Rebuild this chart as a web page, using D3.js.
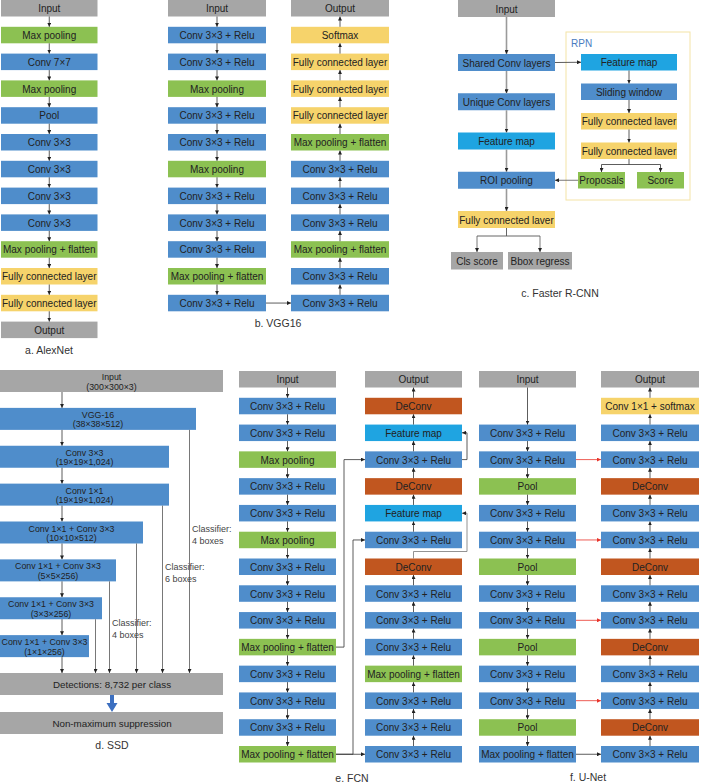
<!DOCTYPE html>
<html>
<head>
<meta charset="utf-8">
<script src="https://cdn.jsdelivr.net/npm/d3@7"></script>
<style>
  body { margin: 0; background: #fff; }
  text { font-family: "Liberation Sans", Arial, sans-serif; }
</style>
</head>
<body>
<script>
// ---- data: layer names and kinds ----
var alexLayers = [["Input","io"],["Max pooling","pool"],["Conv 7×7","conv"],["Max pooling","pool"],["Pool","conv"],
  ["Conv 3×3","conv"],["Conv 3×3","conv"],["Conv 3×3","conv"],["Conv 3×3","conv"],["Max pooling + flatten","pool"],
  ["Fully connected layer","fc"],["Fully connected layer","fc"],["Output","io"]];

var vggDown = [["Input","io"],["Conv 3×3 + Relu","conv"],["Conv 3×3 + Relu","conv"],["Max pooling","pool"],
  ["Conv 3×3 + Relu","conv"],["Conv 3×3 + Relu","conv"],["Max pooling","pool"],["Conv 3×3 + Relu","conv"],
  ["Conv 3×3 + Relu","conv"],["Conv 3×3 + Relu","conv"],["Max pooling + flatten","pool"],["Conv 3×3 + Relu","conv"]];
var vggUp = [["Output","io"],["Softmax","fc"],["Fully connected layer","fc"],["Fully connected layer","fc"],
  ["Fully connected layer","fc"],["Max pooling + flatten","pool"],["Conv 3×3 + Relu","conv"],["Conv 3×3 + Relu","conv"],
  ["Conv 3×3 + Relu","conv"],["Max pooling + flatten","pool"],["Conv 3×3 + Relu","conv"],["Conv 3×3 + Relu","conv"]];

var fasterMain = [["Input","io"],["Shared Conv layers","conv"],["Unique Conv layers","conv"],["Feature map","fmap"],
  ["ROI pooling","conv"],["Fully connected laver","fc"]];
var rpnLayers = [["Feature map","fmap"],["Sliding window","conv"],["Fully connected laver","fc"],["Fully connected laver","fc"]];
var rpnOut = [["Proposals","pool"],["Score","pool"]];
var fasterHeads = [["Cls score","io"],["Bbox regress","io"]];

var ssdLayers = [["Input","(300×300×3)","io"],["VGG-16","(38×38×512)","conv"],["Conv 3×3","(19×19×1,024)","conv"],
  ["Conv 1×1","(19×19×1,024)","conv"],["Conv 1×1 + Conv 3×3","(10×10×512)","conv"],["Conv 1×1 + Conv 3×3","(5×5×256)","conv"],
  ["Conv 1×1 + Conv 3×3","(3×3×256)","conv"],["Conv 1×1 + Conv 3×3","(1×1×256)","conv"]];
var ssdSources = [1, 3, 4, 5, 6];            // layers with a side line to the detections
var ssdClassifiers = [[1,"4 boxes"],[3,"6 boxes"],[5,"4 boxes"]];
var ssdBottom = ["Detections: 8,732 per class", "Non-maximum suppression"];

var fcnDown = [["Input","io"],["Conv 3×3 + Relu","conv"],["Conv 3×3 + Relu","conv"],["Max pooling","pool"],
  ["Conv 3×3 + Relu","conv"],["Conv 3×3 + Relu","conv"],["Max pooling","pool"],["Conv 3×3 + Relu","conv"],
  ["Conv 3×3 + Relu","conv"],["Conv 3×3 + Relu","conv"],["Max pooling + flatten","pool"],["Conv 3×3 + Relu","conv"],
  ["Conv 3×3 + Relu","conv"],["Conv 3×3 + Relu","conv"],["Max pooling + flatten","pool"]];
var fcnUp = [["Output","io"],["DeConv","deconv"],["Feature map","fmap"],["Conv 3×3 + Relu","conv"],["DeConv","deconv"],
  ["Feature map","fmap"],["Conv 3×3 + Relu","conv"],["DeConv","deconv"],["Conv 3×3 + Relu","conv"],["Conv 3×3 + Relu","conv"],
  ["Conv 3×3 + Relu","conv"],["Max pooling + flatten","pool"],["Conv 3×3 + Relu","conv"],["Conv 3×3 + Relu","conv"],
  ["Conv 3×3 + Relu","conv"]];
var fcnSkips = [[10,3],[14,6],[14,14]];      // [left row, right row]

var unetDown = [["Input","io"],null,["Conv 3×3 + Relu","conv"],["Conv 3×3 + Relu","conv"],["Pool","pool"],
  ["Conv 3×3 + Relu","conv"],["Conv 3×3 + Relu","conv"],["Pool","pool"],["Conv 3×3 + Relu","conv"],
  ["Conv 3×3 + Relu","conv"],["Pool","pool"],["Conv 3×3 + Relu","conv"],["Conv 3×3 + Relu","conv"],["Pool","pool"],
  ["Max pooling + flatten","conv"]];
var unetUp = [["Output","io"],["Conv 1×1 + softmax","fc"],["Conv 3×3 + Relu","conv"],["Conv 3×3 + Relu","conv"],
  ["DeConv","deconv"],["Conv 3×3 + Relu","conv"],["Conv 3×3 + Relu","conv"],["DeConv","deconv"],["Conv 3×3 + Relu","conv"],
  ["Conv 3×3 + Relu","conv"],["DeConv","deconv"],["Conv 3×3 + Relu","conv"],["Conv 3×3 + Relu","conv"],["DeConv","deconv"],
  ["Conv 3×3 + Relu","conv"]];
var unetCopies = [3, 6, 9, 12];              // red copy connections
var unetBridge = 14;

var captions = ["a. AlexNet","b. VGG16","c. Faster R-CNN","d. SSD","e. FCN","f. U-Net"];

// ---- drawing ----
var W = 701, H = 784;
var svg = d3.select('body').append('svg').attr('width', W).attr('height', H);
svg.append('rect').attr('width', W).attr('height', H).attr('fill', '#fff');

var color = d3.scaleOrdinal()
  .domain(["io","conv","pool","fc","deconv","fmap"])
  .range(["#a6a6a6","#4f8dcb","#8cc152","#f6d36b","#c1561f","#1fa4e1"]);

var defs = svg.append('defs');
function marker(id, fill) {
  defs.append('marker').attr('id', id)
    .attr('viewBox', '0 0 6 6').attr('refX', 6).attr('refY', 3)
    .attr('markerWidth', 4).attr('markerHeight', 4).attr('markerUnits', 'userSpaceOnUse')
    .attr('orient', 'auto')
    .append('path').attr('d', 'M0,0L6,3L0,6z').attr('fill', fill);
}
marker('ah', '#222');
marker('ahr', '#e8332a');

var BH = 16.5;   // standard box height

function box(g, x, y, w, h, label, kind, fs) {
  g.append('rect').attr('x', x).attr('y', y).attr('width', w).attr('height', h).attr('fill', color(kind));
  g.append('text').attr('x', x + w / 2).attr('y', y + h / 2 + 0.5)
    .attr('text-anchor', 'middle').attr('dominant-baseline', 'central')
    .attr('font-size', (fs || 10) + 'px').attr('fill', '#222').text(label);
}
function arrow(g, pts, stroke, sw, mk) {
  g.append('path').attr('d', d3.line()(pts)).attr('fill', 'none')
    .attr('stroke', stroke || '#333').attr('stroke-width', sw || 0.8)
    .attr('marker-end', 'url(#' + (mk || 'ah') + ')');
}
function caption(x, y, t) {
  svg.append('text').attr('x', x).attr('y', y).attr('text-anchor', 'middle').attr('dominant-baseline', 'central')
    .attr('font-size', '10.5px').attr('fill', '#333').text(t);
}
// column of boxes; dir 1 = arrows down, -1 = arrows up
function column(g, layers, x, w, y, dir, skipArrow) {
  layers.forEach(function (d, i) {
    if (d) box(g, x, y(i), w, BH, d[0], d[1]);
  });
  var idx = layers.map(function (d, i) { return d ? i : -1; }).filter(function (i) { return i >= 0; });
  for (var k = 1; k < idx.length; k++) {
    var a = idx[k - 1], b = idx[k];
    if (skipArrow && skipArrow(a, b)) continue;
    if (dir > 0) arrow(g, [[x + w / 2, y(a) + BH], [x + w / 2, y(b)]]);
    else arrow(g, [[x + w / 2, y(b)], [x + w / 2, y(a) + BH]]);
  }
}

// a. AlexNet
var gA = svg.append('g');
var yA = d3.scaleLinear().domain([0, 12]).range([0, 321.6]);
column(gA, alexLayers, 1, 96.5, yA, 1);
caption(49, 350, captions[0]);

// b. VGG16
var gB = svg.append('g');
var yB = d3.scaleLinear().domain([0, 11]).range([0, 294.8]);
column(gB, vggDown, 168, 98, yB, 1);
column(gB, vggUp, 291, 98, yB, -1);
arrow(gB, [[266, yB(11) + BH / 2], [291, yB(11) + BH / 2]]);
caption(278, 323, captions[1]);

// c. Faster R-CNN
var gC = svg.append('g');
var yC = d3.scaleLinear().domain([0, 1, 5]).range([0, 54, 211]);
var cx = 458, cw = 97, ch = 17;
gC.append('rect').attr('x', 566).attr('y', 32).attr('width', 124).attr('height', 168)
  .attr('fill', 'none').attr('stroke', '#f4e3a6').attr('stroke-width', 1);
gC.append('text').attr('x', 571).attr('y', 43).attr('dominant-baseline', 'central')
  .attr('font-size', '10px').attr('fill', '#4a7cc0').text('RPN');
fasterMain.forEach(function (d, i) {
  box(gC, cx, yC(i), cw, ch, d[0], d[1]);
  if (i > 0) arrow(gC, [[cx + cw / 2, yC(i - 1) + ch], [cx + cw / 2, yC(i)]], '#9a9a9a', 1.6);
});
var yR = d3.scaleLinear().domain([0, 3]).range([54, 142.5]);
var rx = 581, rw = 96;
rpnLayers.forEach(function (d, i) {
  box(gC, rx, yR(i), rw, BH, d[0], d[1]);
  if (i > 0) arrow(gC, [[rx + rw / 2, yR(i - 1) + BH], [rx + rw / 2, yR(i)]]);
});
arrow(gC, [[cx + cw, yC(1) + ch / 2], [rx, yR(0) + BH / 2]]);
var xOut = d3.scaleLinear().domain([0, 1]).range([578, 637]);
rpnOut.forEach(function (d, i) { box(gC, xOut(i), 172, 47, BH, d[0], d[1]); });
gC.append('path').attr('d', d3.line()([[rx + rw / 2, yR(3) + BH], [rx + rw / 2, 164.5]]))
  .attr('stroke', '#333').attr('stroke-width', 0.8).attr('fill', 'none');
gC.append('path').attr('d', d3.line()([[xOut(0) + 23.5, 164.5], [xOut(1) + 23.5, 164.5]]))
  .attr('stroke', '#333').attr('stroke-width', 0.8).attr('fill', 'none');
rpnOut.forEach(function (d, i) { arrow(gC, [[xOut(i) + 23.5, 164.5], [xOut(i) + 23.5, 172]]); });
arrow(gC, [[xOut(0), 180.25], [cx + cw, 180.25]], '#555');
var xH = [451, 508], wH = [52, 64];
fasterHeads.forEach(function (d, i) { box(gC, xH[i], 252, wH[i], 17.5, d[0], d[1]); });
gC.append('path').attr('d', d3.line()([[cx + cw / 2, yC(5) + ch], [cx + cw / 2, 236]]))
  .attr('stroke', '#555').attr('stroke-width', 0.9).attr('fill', 'none');
gC.append('path').attr('d', d3.line()([[xH[0] + wH[0] / 2, 236], [xH[1] + wH[1] / 2, 236]]))
  .attr('stroke', '#555').attr('stroke-width', 0.9).attr('fill', 'none');
fasterHeads.forEach(function (d, i) { arrow(gC, [[xH[i] + wH[i] / 2, 236], [xH[i] + wH[i] / 2, 252]], '#555'); });
caption(560, 293, captions[2]);

// d. SSD
var gD = svg.append('g');
var yD = d3.scaleLinear().domain([0, 8, 9]).range([370, 673, 712]);
var sh = 22, scx = 62;
var sw = [223, 196, 169, 169, 143, 116, 102, 89];
ssdLayers.forEach(function (d, i) {
  gD.append('rect').attr('x', 0).attr('y', yD(i)).attr('width', sw[i]).attr('height', sh).attr('fill', color(d[2]));
  gD.append('text').attr('x', sw[i] / 2).attr('y', yD(i) + 7).attr('text-anchor', 'middle').attr('dominant-baseline', 'central')
    .attr('font-size', '8.8px').attr('fill', '#222').text(d[0]);
  gD.append('text').attr('x', sw[i] / 2).attr('y', yD(i) + 16.5).attr('text-anchor', 'middle').attr('dominant-baseline', 'central')
    .attr('font-size', '8.8px').attr('fill', '#222').text(d[1]);
  arrow(gD, [[scx, yD(i) + sh], [scx, yD(i + 1)]]);
});
ssdSources.forEach(function (i) {
  arrow(gD, [[sw[i] - 6.5, yD(i) + sh], [sw[i] - 6.5, yD(8)]], '#555');
});
// label heights along the side lines
var clsY = [529, 567, 623];
ssdClassifiers.forEach(function (c, k) {
  var t = gD.append('text').attr('font-size', '9px').attr('fill', '#444').attr('dominant-baseline', 'central');
  t.append('tspan').attr('x', sw[c[0]] - 4).attr('y', clsY[k]).text('Classifier:');
  t.append('tspan').attr('x', sw[c[0]] - 4).attr('y', clsY[k] + 12).text(c[1]);
});
ssdBottom.forEach(function (t, i) {
  gD.append('rect').attr('x', 0).attr('y', yD(8 + i)).attr('width', 223).attr('height', sh).attr('fill', color('io'));
  gD.append('text').attr('x', 112).attr('y', yD(8 + i) + sh / 2 + 0.5).attr('text-anchor', 'middle').attr('dominant-baseline', 'central')
    .attr('font-size', '9.8px').attr('fill', '#222').text(t);
});
gD.append('path').attr('d', 'M110,695 H114 V703 H117.5 L112,712 L106.5,703 H110 Z').attr('fill', '#3c6fc0');
caption(112, 745, captions[3]);

// e. FCN
var gE = svg.append('g');
var yE = d3.scaleLinear().domain([0, 14]).range([371, 746]);
var el = 239, er = 365, ew = 97;
column(gE, fcnDown, el, ew, yE, 1);
column(gE, fcnUp, er, ew, yE, -1, function (a, b) { return a === 6 && b === 7; });
function mid(i) { return yE(i) + BH / 2; }
arrow(gE, [[er + ew, mid(3)], [er + ew + 5, mid(3)], [er + ew + 5, mid(2)], [er + ew, mid(2)]]);
arrow(gE, [[er + ew / 2, yE(7)], [er + ew / 2, yE(7) - 7], [er + ew + 5, yE(7) - 7], [er + ew + 5, mid(5)], [er + ew, mid(5)]], '#777');
fcnSkips.forEach(function (s, k) {
  var bend = [344, 353, null][k];
  if (bend) arrow(gE, [[el + ew, mid(s[0])], [bend, mid(s[0])], [bend, mid(s[1])], [er, mid(s[1])]]);
  else arrow(gE, [[el + ew, mid(s[0])], [er, mid(s[1])]]);
});
caption(352, 778, captions[4]);

// f. U-Net
var gF = svg.append('g');
var ul = 479, ur = 601, uw = 97;
column(gF, unetDown, ul, uw, yE, 1);
column(gF, unetUp, ur, uw + 1, yE, -1);
unetCopies.forEach(function (r) { arrow(gF, [[ul + uw, mid(r)], [ur, mid(r)]], '#e8332a', 0.8, 'ahr'); });
arrow(gF, [[ul + uw, mid(unetBridge)], [ur, mid(unetBridge)]]);
caption(588, 777, captions[5]);
</script>
</body>
</html>
